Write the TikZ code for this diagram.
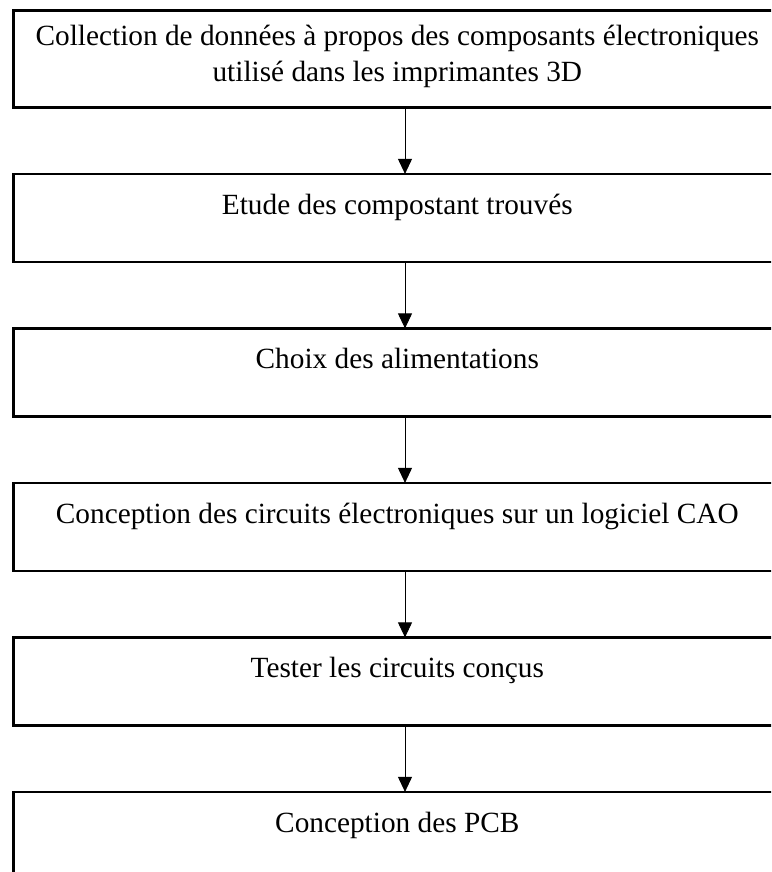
\documentclass[tikz,border=0pt]{standalone}
\usepackage{fontspec}
\setmainfont{Liberation Serif}
\usetikzlibrary{arrows.meta, positioning}
\tikzset{
  stepbox/.style={rectangle, draw=black, line width=2.4pt, fill=white,
                  minimum width=768pt, inner sep=0pt, outer sep=0pt,
                  align=center, font=\fontsize{29.3}{36.7}\selectfont,
                  text height=40.5pt, text depth=47.5pt},
  arr/.style={-{Triangle[width=14pt, length=15pt]}, line width=0.9pt},
}

\begin{document}
\begin{tikzpicture}[x=1pt, y=1pt, node distance=66.5pt]
  % page frame (boxes run past the right and bottom edges)
  \path[use as bounding box, clip] (0,0) rectangle (771,-872);
  \coordinate (axis) at (405,0);

  % Steps
  \node[stepbox, anchor=north west, text height=34.7pt, text depth=62.2pt]
    (collect) at (13.3,-10.5)
    {\parbox[t]{760pt}{\centering Collection de données à propos des composants électroniques\\
     utilisé dans les imprimantes 3D}};
  \node[stepbox, below=of collect] (etude)   {Etude des compostant trouvés};
  \node[stepbox, below=of etude]   (alim)    {Choix des alimentations};
  \node[stepbox, below=of alim]    (cao)     {Conception des circuits électroniques sur un logiciel CAO};
  \node[stepbox, below=of cao]     (tester)  {Tester les circuits conçus};
  \node[stepbox, below=of tester]  (pcb)     {Conception des PCB};

  % Arrows
  \draw[arr] (collect.south -| axis) -- (etude.north -| axis);
  \draw[arr] (etude.south -| axis)   -- (alim.north -| axis);
  \draw[arr] (alim.south -| axis)    -- (cao.north -| axis);
  \draw[arr] (cao.south -| axis)     -- (tester.north -| axis);
  \draw[arr] (tester.south -| axis)  -- (pcb.north -| axis);
\end{tikzpicture}
\end{document}
